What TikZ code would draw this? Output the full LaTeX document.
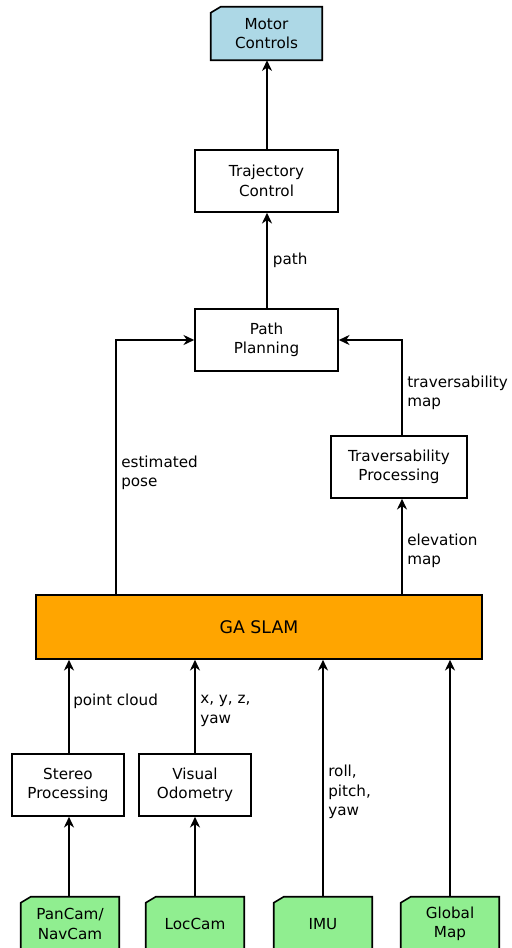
\documentclass[tikz,border=0pt]{standalone}
\usepackage{fontspec}
\setmainfont{DejaVu Sans}
\usetikzlibrary{arrows.meta,calc,backgrounds}
\definecolor{motorblue}{HTML}{ADD8E6}
\definecolor{srcgreen}{HTML}{90EE90}
\definecolor{slamorange}{HTML}{FFA500}
\begin{document}
\begin{tikzpicture}[x=0.75pt,y=-0.75pt,
  font=\fontsize{11.4pt}{14.6pt}\selectfont,
  box/.style={draw=black,line width=1.2pt,fill=white,align=center,inner sep=0pt,minimum width=143*0.75pt,minimum height=62*0.75pt},
  smallbox/.style={box,minimum width=112*0.75pt},
  notebox/.style={align=center,inner sep=0pt,minimum width=98*0.75pt,minimum height=54*0.75pt},
  lbl/.style={anchor=west,align=left,inner sep=0pt},
  arr/.style={-{Stealth[length=8pt,width=7.5pt,inset=2.5pt]},line width=1.3pt}]
\useasboundingbox (0,0) rectangle (511,948);

\node[notebox,minimum width=111*0.75pt,minimum height=53*0.75pt] (motor) at (266.5,33.5) {Motor\\Controls};
\node[box] (traj) at (266.5,181) {Trajectory\\Control};
\node[box] (plan) at (266.5,340) {Path\\Planning};
\node[box,minimum width=136*0.75pt] (trav) at (399,467) {Traversability\\Processing};
\node[box,minimum width=446*0.75pt,minimum height=64*0.75pt,fill=slamorange,font=\fontsize{13pt}{15pt}\selectfont] (slam) at (259,627) {GA SLAM};
\node[smallbox] (stereo) at (68,785) {Stereo\\Processing};
\node[smallbox] (vo) at (195,785) {Visual\\Odometry};
\node[notebox] (pancam) at (70,924) {PanCam/\\NavCam};
\node[notebox] (loccam) at (195,924) {LocCam};
\node[notebox] (imu) at (323,924) {IMU};
\node[notebox] (gmap) at (450,924) {Global\\Map};

\begin{scope}[on background layer]
\foreach \n/\c in {motor/motorblue,pancam/srcgreen,loccam/srcgreen,imu/srcgreen,gmap/srcgreen}{
  \draw[line width=1.2pt,fill=\c] ($(\n.north west)+(0,6)$) -- ($(\n.north west)+(10,0)$) -- (\n.north east) -- (\n.south east) -- (\n.south west) -- cycle;
}
\end{scope}

\draw[arr] (traj.north -| 267,0) -- (motor.south -| 267,0);
\draw[arr] (plan.north -| 267,0) -- node[lbl,xshift=5*0.75pt]{path} (traj.south -| 267,0);
\draw[arr] (slam.north -| 116,0) |- (plan.west);
\draw[arr] (trav.north -| 402,0) |- (plan.east);
\draw[arr] (slam.north -| 402,0) -- (trav.south -| 402,0);

\draw[arr] (pancam.north -| 69,0) -- (stereo.south -| 69,0);
\draw[arr] (stereo.north -| 69,0) -- (slam.south -| 69,0);
\draw[arr] (loccam) -- (vo);
\draw[arr] (vo) -- (slam.south -| vo);
\draw[arr] (imu) -- (slam.south -| imu);
\draw[arr] (gmap) -- (slam.south -| gmap);

\node[lbl] (lpath) at (407,393) {traversability\\map};
\node[lbl] (lpose) at (121,473) {estimated\\pose};
\node[lbl] (lelev) at (407,551) {elevation\\map};
\node[lbl] (lcloud) at (73,701) {point cloud};
\node[lbl] (lxyz) at (200,711) {x, y, z,\\yaw};
\node[lbl] (lrpy) at (328,792) {roll,\\pitch,\\yaw};
\end{tikzpicture}
\end{document}
